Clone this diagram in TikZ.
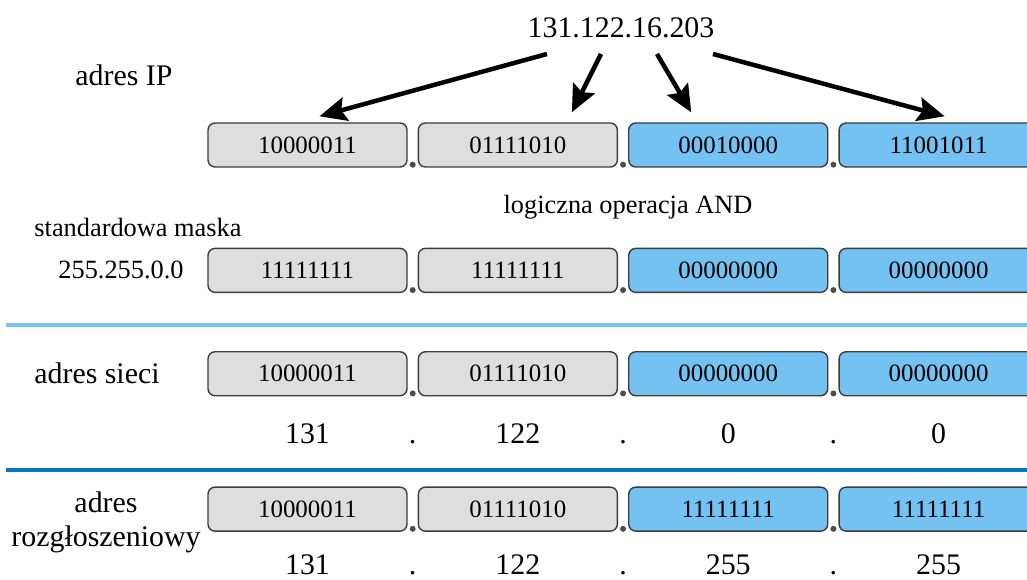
\documentclass[tikz,border=0pt]{standalone}
\usepackage{fontspec}
\setmainfont{Liberation Serif}
\usetikzlibrary{arrows.meta, positioning, calc}

\definecolor{boxgray}{HTML}{DEDEDE}
\definecolor{boxblue}{HTML}{74C2F1}
\definecolor{edgegray}{HTML}{3C3C3C}
\definecolor{dotgray}{HTML}{4D4D4D}
\definecolor{sepblue}{HTML}{78C4F0}
\definecolor{sepdark}{HTML}{0A72BE}

\begin{document}
\begin{tikzpicture}[x=0.02cm, y=-0.02cm]
  % Styles
  \tikzstyle{octet} = [rectangle, draw=edgegray, line width=0.8pt, rounded corners=0.14cm, minimum width=3.98cm, minimum height=0.88cm, inner sep=0pt, font=\fontsize{14.2}{16}\selectfont]
  \tikzstyle{netpart} = [octet, fill=boxgray]
  \tikzstyle{hostpart} = [octet, fill=boxblue]
  \tikzstyle{sepdot} = [circle, fill=dotgray, inner sep=0pt, minimum size=0.12cm]
  \tikzstyle{rowtitle} = [font=\fontsize{17}{19.5}\selectfont, align=center]
  \tikzstyle{masktext} = [font=\fontsize{15}{17}\selectfont]
  \tikzstyle{decimal} = [anchor=base, inner sep=1pt, font=\fontsize{17}{19}\selectfont]
  \tikzstyle{pointer} = [draw, -{Stealth[length=0.54cm, width=0.48cm, inset=0.09cm]}, line width=0.09cm]

  \useasboundingbox (0,0) rectangle (1027,580);

  % Address and titles
  \node[rowtitle] (ipaddr) at (621,28) {131.122.16.203};
  \node[rowtitle] (iptitle) at (124,75) {adres IP};

  % 1. IP address in binary
  \node[netpart] (ip1) at (307.5,145) {10000011};
  \node[netpart, right=0.2cm of ip1] (ip2) {01111010};
  \node[hostpart, right=0.2cm of ip2] (ip3) {00010000};
  \node[hostpart, right=0.2cm of ip3] (ip4) {11001011};
  \node[sepdot] (ipdot1) at ($(ip1.south east)!0.5!(ip2.south west)+(0,-3)$) {};
  \node[sepdot] (ipdot2) at ($(ip2.south east)!0.5!(ip3.south west)+(0,-3)$) {};
  \node[sepdot] (ipdot3) at ($(ip3.south east)!0.5!(ip4.south west)+(0,-3)$) {};

  \draw[pointer] ($(ipaddr.center)+(-74,26)$) -- ($(ip1.north)+(12,-6)$);
  \draw[pointer] ($(ipaddr.center)+(-20,26)$) -- ($(ip2.north)+(54,-10)$);
  \draw[pointer] ($(ipaddr.center)+(36,26)$) -- ($(ip3.north)+(-37,-10)$);
  \draw[pointer] ($(ipaddr.center)+(92,26)$) -- ($(ip4.north)+(6,-6)$);

  % 2. Mask
  \node[masktext] (andop) at (628,207) {logiczna operacja AND};
  \node[masktext] (masktitle) at (138,227) {standardowa maska};
  \node[masktext] (maskval) at (121,270) {255.255.0.0};
  \node[netpart, below=1.6cm of ip1] (mk1) {11111111};
  \node[netpart, right=0.2cm of mk1] (mk2) {11111111};
  \node[hostpart, right=0.2cm of mk2] (mk3) {00000000};
  \node[hostpart, right=0.2cm of mk3] (mk4) {00000000};
  \node[sepdot] (mkdot1) at ($(mk1.south east)!0.5!(mk2.south west)+(0,-3)$) {};
  \node[sepdot] (mkdot2) at ($(mk2.south east)!0.5!(mk3.south west)+(0,-3)$) {};
  \node[sepdot] (mkdot3) at ($(mk3.south east)!0.5!(mk4.south west)+(0,-3)$) {};

  \draw[sepblue, line width=0.07cm] (6,325) -- (1027,325);

  % 3. Network address
  \node[rowtitle] (nettitle) at (97,373) {adres sieci};
  \node[netpart, below=1.16cm of mk1] (nt1) {10000011};
  \node[netpart, right=0.2cm of nt1] (nt2) {01111010};
  \node[hostpart, right=0.2cm of nt2] (nt3) {00000000};
  \node[hostpart, right=0.2cm of nt3] (nt4) {00000000};
  \node[sepdot] (ntdot1) at ($(nt1.south east)!0.5!(nt2.south west)+(0,-3)$) {};
  \node[sepdot] (ntdot2) at ($(nt2.south east)!0.5!(nt3.south west)+(0,-3)$) {};
  \node[sepdot] (ntdot3) at ($(nt3.south east)!0.5!(nt4.south west)+(0,-3)$) {};
  \node[decimal] (ntv1) at (nt1 |- 0,443) {131};
  \node[decimal] (ntp1) at (ntdot1 |- 0,443) {.};
  \node[decimal] (ntv2) at (nt2 |- 0,443) {122};
  \node[decimal] (ntp2) at (ntdot2 |- 0,443) {.};
  \node[decimal] (ntv3) at (nt3 |- 0,443) {0};
  \node[decimal] (ntp3) at (ntdot3 |- 0,443) {.};
  \node[decimal] (ntv4) at (nt4 |- 0,443) {0};

  \draw[sepdark, line width=0.07cm] (6,470) -- (1027,470);

  % 4. Broadcast address
  \node[rowtitle] (bctitle) at (106,522) {adres\\rozgłoszeniowy};
  \node[netpart, below=1.8cm of nt1] (bc1) {10000011};
  \node[netpart, right=0.2cm of bc1] (bc2) {01111010};
  \node[hostpart, right=0.2cm of bc2] (bc3) {11111111};
  \node[hostpart, right=0.2cm of bc3] (bc4) {11111111};
  \node[sepdot] (bcdot1) at ($(bc1.south east)!0.5!(bc2.south west)+(0,-3)$) {};
  \node[sepdot] (bcdot2) at ($(bc2.south east)!0.5!(bc3.south west)+(0,-3)$) {};
  \node[sepdot] (bcdot3) at ($(bc3.south east)!0.5!(bc4.south west)+(0,-3)$) {};
  \node[decimal] (bcv1) at (bc1 |- 0,574) {131};
  \node[decimal] (bcp1) at (bcdot1 |- 0,574) {.};
  \node[decimal] (bcv2) at (bc2 |- 0,574) {122};
  \node[decimal] (bcp2) at (bcdot2 |- 0,574) {.};
  \node[decimal] (bcv3) at (bc3 |- 0,574) {255};
  \node[decimal] (bcp3) at (bcdot3 |- 0,574) {.};
  \node[decimal] (bcv4) at (bc4 |- 0,574) {255};

\end{tikzpicture}
\end{document}
